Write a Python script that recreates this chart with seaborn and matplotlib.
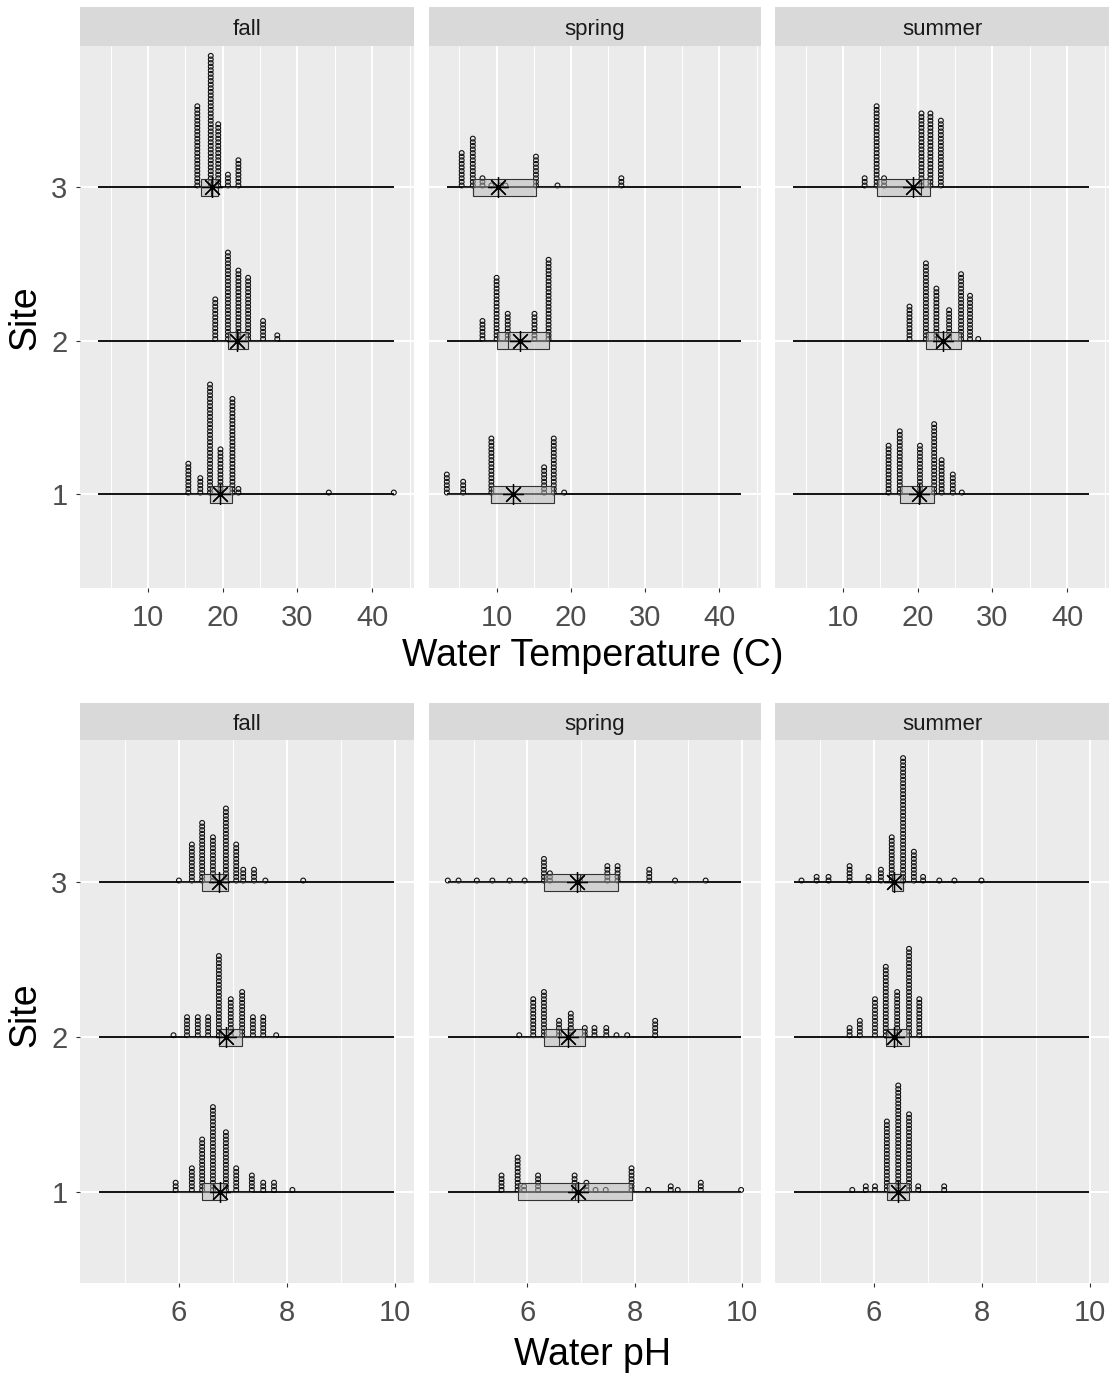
import numpy as np
import pandas as pd
import matplotlib
matplotlib.use("Agg")
import matplotlib.pyplot as plt
import seaborn as sns

seasons = ["fall", "spring", "summer"]
sites = [1, 2, 3]

# ---- Water temperature (C): dot columns per site -> (values, counts) ----
temp_fall = {
    3: ([16.6, 18.4, 19.4, 20.7, 22.1], [23, 37, 18, 4, 8]),
    2: ([19.0, 20.7, 22.1, 23.4, 25.4, 27.3], [12, 25, 20, 18, 6, 2]),
    1: ([15.4, 17.0, 18.3, 19.7, 21.3, 22.1, 34.2, 42.9], [9, 5, 31, 13, 27, 2, 1, 1]),
}
temp_spring = {
    3: ([5.3, 6.8, 8.1, 9.3, 10.5, 11.2, 15.3, 18.2, 26.8], [10, 14, 3, 1, 1, 1, 9, 1, 3]),
    2: ([8.1, 10.0, 11.5, 15.1, 17.0], [6, 18, 8, 8, 23]),
    1: ([3.3, 5.5, 9.3, 16.4, 17.7, 19.1], [6, 4, 16, 8, 16, 1]),
}
temp_summer = {
    3: ([12.9, 14.5, 15.5, 20.5, 21.7, 23.1], [3, 23, 3, 21, 21, 19]),
    2: ([18.9, 21.1, 22.5, 24.2, 25.8, 27.0, 28.1], [10, 22, 15, 9, 19, 13, 1]),
    1: ([16.1, 17.6, 20.3, 22.2, 23.2, 24.7, 25.9], [14, 18, 14, 20, 10, 6, 1]),
}

# ---- Water pH ----
ph_fall = {
    3: ([6.0, 6.24, 6.43, 6.63, 6.87, 7.06, 7.19, 7.39, 7.6, 8.3], [1, 11, 17, 13, 21, 11, 4, 4, 1, 1]),
    2: ([5.9, 6.15, 6.35, 6.54, 6.74, 6.96, 7.17, 7.37, 7.56, 7.8], [1, 6, 6, 6, 23, 11, 13, 6, 6, 1]),
    1: ([5.94, 6.24, 6.43, 6.63, 6.87, 7.06, 7.35, 7.56, 7.76, 8.1], [3, 7, 15, 24, 17, 7, 5, 3, 3, 1]),
}
ph_spring = {
    3: ([4.52, 4.72, 5.06, 5.35, 5.67, 5.95, 6.31, 6.42, 6.98, 7.49, 7.68, 8.27, 8.75, 9.32],
        [1, 1, 1, 1, 1, 1, 7, 3, 2, 5, 5, 4, 1, 1]),
    2: ([5.85, 6.11, 6.31, 6.59, 6.81, 7.07, 7.25, 7.47, 7.66, 7.86, 8.38],
        [1, 11, 13, 5, 7, 3, 3, 3, 1, 1, 5]),
    1: ([5.52, 5.82, 5.94, 6.2, 6.88, 7.1, 7.27, 7.46, 7.94, 8.25, 8.67, 8.8, 9.23, 9.98],
        [5, 10, 2, 5, 5, 3, 1, 1, 7, 1, 2, 1, 3, 1]),
}
ph_summer = {
    3: ([4.66, 4.94, 5.16, 5.55, 5.9, 6.13, 6.33, 6.54, 6.74, 6.91, 7.21, 7.49, 7.99],
        [1, 2, 2, 5, 2, 4, 13, 35, 9, 2, 1, 1, 1]),
    2: ([5.55, 5.74, 6.02, 6.22, 6.43, 6.65, 6.84], [3, 5, 11, 20, 13, 25, 11]),
    1: ([5.6, 5.85, 6.02, 6.24, 6.45, 6.65, 6.82, 7.3], [1, 2, 2, 20, 30, 22, 2, 2]),
}

temp_xticks = [10, 20, 30, 40]
temp_xminor = [5, 15, 25, 35, 45]
ph_xticks = [6, 8, 10]
ph_xminor = [5, 7, 9]


def build_frame(panels):
    rows = []
    for season, d in zip(seasons, panels):
        for site, (vals, cnts) in d.items():
            for v, c in zip(vals, cnts):
                for k in range(c):
                    rows.append((season, site, v, k))
    return pd.DataFrame(rows, columns=["season", "site", "value", "stack"])


temp_df = build_frame([temp_fall, temp_spring, temp_summer])
ph_df = build_frame([ph_fall, ph_spring, ph_summer])

sns.set_theme(style="darkgrid")
plt.rcParams["font.family"] = ["Liberation Sans", "DejaVu Sans"]

W, H = 1115, 1377
fig = plt.figure(figsize=(W / 100, H / 100), dpi=100)

cols_px = [(80, 414), (429, 761), (775, 1109)]


def draw_row(df, ax_top, ax_bot, strip_top, xlim, ylim, xticks, xminor, xlabel, xlabel_y, site_y):
    gmin, gmax = df["value"].min(), df["value"].max()
    dy = 3.6 * (ylim[1] - ylim[0]) / (ax_bot - ax_top)
    for i, season in enumerate(seasons):
        x0, x1 = cols_px[i]
        ax = fig.add_axes([x0 / W, 1 - ax_bot / H, (x1 - x0) / W, (ax_bot - ax_top) / H])
        ax.set_facecolor("#EBEBEB")
        sub = df[df["season"] == season].copy()
        sub["ypos"] = sub["site"] + (sub["stack"] + 0.5) * dy
        # dots
        sns.scatterplot(data=sub, x="value", y="ypos", marker="o", s=12,
                        facecolor="none", edgecolor="#111111", linewidth=0.8,
                        ax=ax, legend=False, zorder=3)
        # baseline across the full data range
        ax.hlines(sites, gmin, gmax, color="black", lw=1.3, zorder=3.5)
        # boxplots
        npatch = len(ax.patches)
        sns.boxplot(data=sub, x="value", y="site", orient="h", native_scale=True,
                    width=0.11, showfliers=False, showcaps=False, color="#bdbdbd",
                    linecolor="#333333", linewidth=0.8, ax=ax, zorder=4)
        for p in ax.patches[npatch:]:
            p.set_facecolor((0.72, 0.72, 0.72, 0.5))
            p.set_zorder(4)
        # means
        means = sub.groupby("site")["value"].mean()
        ax.plot(means.values, means.index.values, ls="none", marker=(8, 2, 0),
                ms=15, mew=0.9, color="black", zorder=5)

        ax.set_xlim(*xlim)
        ax.set_ylim(*ylim)
        ax.set_xticks(xticks)
        ax.set_xticks([m for m in xminor if xlim[0] < m < xlim[1]], minor=True)
        ax.set_yticks(sites)
        ax.set_yticks([], minor=True)
        ax.set_xticklabels([str(t) for t in xticks])
        ax.grid(which="major", color="white", lw=1.4)
        ax.grid(which="minor", color="white", lw=0.7)
        ax.set_axisbelow(True)
        for s in ax.spines.values():
            s.set_visible(False)
        ax.tick_params(axis="x", which="major", length=3, width=0.8, color="#333333",
                       labelsize=21, labelcolor="#4D4D4D", pad=8.5, bottom=True)
        ax.tick_params(which="minor", length=0)
        if i == 0:
            ax.tick_params(axis="y", which="major", length=3, width=0.8, color="#333333",
                           labelsize=21, labelcolor="#4D4D4D", pad=6, left=True)
        else:
            ax.tick_params(axis="y", left=False, labelleft=False)
        ax.set_xlabel("")
        ax.set_ylabel("")
        # strip
        sax = fig.add_axes([x0 / W, 1 - ax_top / H, (x1 - x0) / W, (ax_top - strip_top) / H])
        sax.set_facecolor("#D9D9D9")
        sax.grid(False)
        sax.set_xticks([])
        sax.set_yticks([])
        for s in sax.spines.values():
            s.set_visible(False)
        sax.text(0.5, 0.42, season, ha="center", va="center", fontsize=16,
                 color="#1A1A1A", transform=sax.transAxes)
    fig.text(593 / W, 1 - xlabel_y / H, xlabel, ha="center", va="center", fontsize=27, color="black")
    fig.text(25 / W, 1 - site_y / H, "Site", ha="center", va="center", rotation=90,
             fontsize=27, color="black")


draw_row(temp_df, 46, 588, 7, (0.9, 45.6), (0.39, 3.92), temp_xticks, temp_xminor,
         "Water Temperature (C)", 656, 318)
draw_row(ph_df, 740, 1283, 703, (4.17, 10.35), (0.41, 3.92), ph_xticks, ph_xminor,
         "Water pH", 1355, 1015)

fig.savefig("out.png", dpi=100)
